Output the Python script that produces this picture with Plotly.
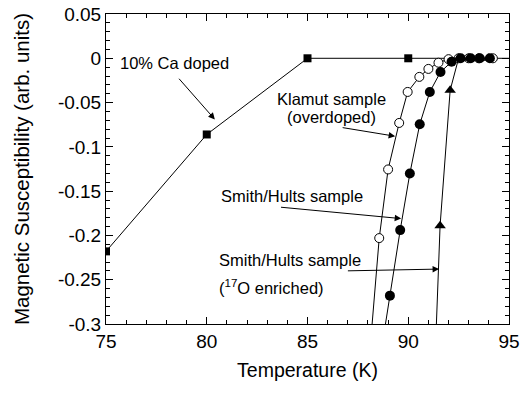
import plotly.graph_objects as go

# Diamagnetic susceptibility vs temperature for several samples
ca_T = [75, 80, 85, 90, 96]
ca_chi = [-0.218, -0.086, 0.0, 0.0, 0.0]

klamut_T = [88.17, 88.56, 89.0, 89.55, 89.97, 90.55, 91.0, 91.5, 92.0, 92.5, 93.0, 93.5, 94.2]
klamut_chi = [-0.31, -0.203, -0.1255, -0.073, -0.038, -0.021, -0.012, -0.005, -0.001, 0.0, 0.0, 0.0, 0.0]

smith_T = [88.8, 89.09, 89.6, 90.08, 90.57, 91.07, 91.6, 92.15, 92.6, 93.1, 93.55, 94.05]
smith_chi = [-0.31, -0.268, -0.194, -0.130, -0.0745, -0.038, -0.0155, -0.004, 0.0, 0.0, 0.0, 0.0]

o17_T = [91.38, 91.58, 92.08, 92.5, 93.0, 93.5, 94.0]
o17_chi = [-0.31, -0.189, -0.036, 0.0, 0.0, 0.0, 0.0]

x_ticks = [75, 80, 85, 90, 95]
x_ticklabels = ["75", "80", "85", "90", "95"]
y_ticks = [0.05, 0.0, -0.05, -0.1, -0.15, -0.2, -0.25, -0.3]
y_ticklabels = ["0.05", "0", "-0.05", "-0.1", "-0.15", "-0.2", "-0.25", "-0.3"]

FONT = "Liberation Sans, Arial, Helvetica, sans-serif"
line_style = dict(color="black", width=1)

fig = go.Figure()
fig.add_trace(go.Scatter(x=ca_T, y=ca_chi, mode="lines+markers", line=line_style,
                         marker=dict(symbol="square", size=8, color="black")))
fig.add_trace(go.Scatter(x=klamut_T, y=klamut_chi, mode="lines+markers", line=line_style,
                         marker=dict(symbol="circle", size=9, color="white",
                                     line=dict(color="black", width=1))))
fig.add_trace(go.Scatter(x=o17_T, y=o17_chi, mode="lines+markers", line=line_style,
                         marker=dict(symbol="triangle-up", size=10, color="black")))
fig.add_trace(go.Scatter(x=smith_T, y=smith_chi, mode="lines+markers", line=line_style,
                         marker=dict(symbol="circle", size=10, color="black")))

text_font = dict(family=FONT, size=16.5, color="black")


def label(x, y, text, xanchor="left"):
    fig.add_annotation(x=x, y=y, text=text, showarrow=False, xanchor=xanchor,
                       yanchor="middle", font=text_font)


def arrow(x0, y0, x1, y1):
    fig.add_annotation(x=x1, y=y1, ax=x0, ay=y0, xref="x", yref="y", axref="x", ayref="y",
                       text="", showarrow=True, arrowhead=2, arrowsize=1.3,
                       arrowwidth=1, arrowcolor="black")


label(75.6, -0.0056, "10% Ca doped")
arrow(78.56, -0.0214, 80.40, -0.069)

label(86.2, -0.0454, "Klamut sample", xanchor="center")
label(86.2, -0.0668, "(overdoped)", xanchor="center")
arrow(86.67, -0.078, 89.35, -0.088)

label(80.6, -0.156, "Smith/Hults sample")
arrow(83.61, -0.168, 89.65, -0.181)

label(80.5, -0.228, "Smith/Hults sample")
label(80.5, -0.258, "(<sup>17</sup>O enriched)")
arrow(86.93, -0.240, 91.53, -0.238)

axis_common = dict(showline=True, linecolor="black", linewidth=1, mirror="allticks",
                   ticks="inside", tickcolor="black", ticklen=7, tickwidth=1,
                   showgrid=False, zeroline=False, automargin=False,
                   tickfont=dict(family=FONT, size=19, color="black"))

fig.update_xaxes(range=[75, 95], tickvals=x_ticks, ticktext=x_ticklabels,
                 minor=dict(ticks="inside", dtick=1, ticklen=4, tickcolor="black"),
                 title=dict(text="Temperature (K)", font=dict(family=FONT, size=19.5, color="black"),
                            standoff=12),
                 **axis_common)
fig.update_yaxes(range=[-0.3, 0.05], tickvals=y_ticks, ticktext=y_ticklabels,
                 minor=dict(ticks="inside", dtick=0.01, tick0=0, ticklen=4, tickcolor="black"),
                 title=dict(text="Magnetic Susceptibility (arb. units)",
                            font=dict(family=FONT, size=20.5, color="black"), standoff=22),
                 **axis_common)

fig.update_layout(width=524, height=394, showlegend=False,
                  margin=dict(l=106, r=15, t=14, b=70),
                  paper_bgcolor="white", plot_bgcolor="white",
                  font=dict(family=FONT, color="black"))

fig.write_html("out.html")
